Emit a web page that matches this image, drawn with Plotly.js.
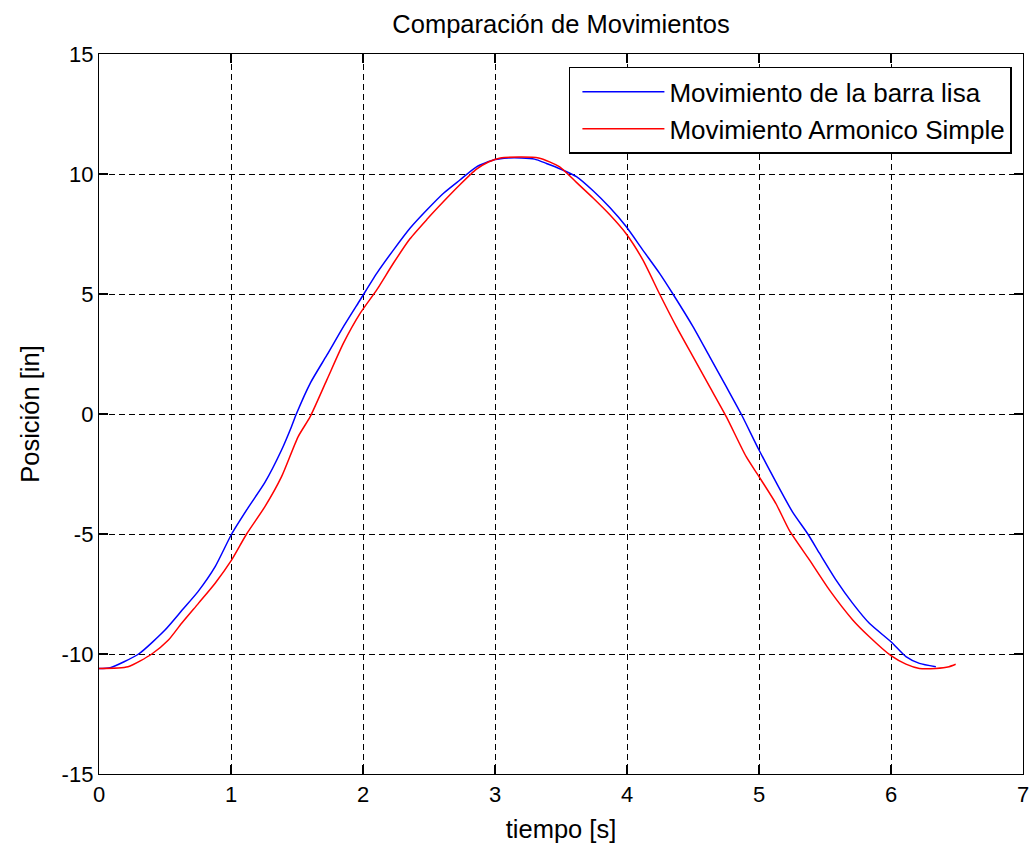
<!DOCTYPE html>
<html>
<head>
<meta charset="utf-8">
<script src="https://cdn.plot.ly/plotly-3.0.1.min.js"></script>
<style>
  html, body { margin: 0; padding: 0; background: #ffffff; }
  #chart { width: 1032px; height: 847px; }
</style>
</head>
<body>
<div id="chart"></div>
<script>
// Posición de la barra lisa frente al tiempo
const tBarra = [0, 0.085, 0.30, 0.50, 0.63, 0.75, 0.88, 1.005, 1.13, 1.257, 1.383, 1.458, 1.495,
  1.60, 1.726, 1.852, 1.978, 2.104, 2.23, 2.356, 2.483, 2.61, 2.734, 2.86, 3.0, 3.1, 3.2, 3.3,
  3.39, 3.5, 3.617, 3.743, 3.87, 3.995, 4.12, 4.247, 4.348, 4.5, 4.626, 4.752, 4.865, 5.0,
  5.13, 5.256, 5.37, 5.458, 5.584, 5.71, 5.836, 6.0, 6.113, 6.215, 6.34];
const posBarra = [-10.6, -10.57, -10.0, -9.0, -8.17, -7.4, -6.36, -5.0, -3.9, -2.85, -1.5, -0.53, 0.0,
  1.28, 2.45, 3.64, 4.75, 5.86, 6.83, 7.74, 8.5, 9.2, 9.75, 10.3, 10.6, 10.67, 10.67, 10.62,
  10.44, 10.2, 9.89, 9.3, 8.6, 7.8, 6.83, 5.86, 5.0, 3.64, 2.39, 1.14, 0.0, -1.5,
  -2.85, -4.1, -5.0, -5.8, -6.92, -7.89, -8.72, -9.49, -10.11, -10.39, -10.53];

// Posición del movimiento armónico simple
const tMas = [0, 0.22, 0.40, 0.526, 0.626, 0.753, 0.88, 1.005, 1.118, 1.257, 1.383, 1.509,
  1.60, 1.726, 1.852, 1.978, 2.104, 2.23, 2.356, 2.483, 2.61, 2.734, 2.86, 2.95, 3.04, 3.33,
  3.49, 3.617, 3.743, 3.87, 3.995, 4.12, 4.247, 4.374, 4.5, 4.626, 4.752, 4.903, 5.0, 5.13,
  5.23, 5.382, 5.533, 5.71, 5.836, 6.0, 6.113, 6.215, 6.34, 6.44, 6.49];
const posMas = [-10.6, -10.53, -10.0, -9.42, -8.72, -7.89, -7.05, -6.08, -5.0, -3.86, -2.61, -0.94,
  -0.11, 1.42, 2.95, 4.19, 5.17, 6.28, 7.3, 8.1, 8.85, 9.55, 10.2, 10.5, 10.67, 10.67,
  10.3, 9.65, 9.0, 8.3, 7.5, 6.42, 5.0, 3.64, 2.39, 1.14, -0.11, -1.78, -2.61, -3.75,
  -4.85, -6.08, -7.33, -8.58, -9.28, -10.07, -10.42, -10.6, -10.6, -10.53, -10.43];

const nombres = ['Movimiento de la barra lisa', 'Movimiento Armonico Simple'];
const xTicks = [0, 1, 2, 3, 4, 5, 6, 7];
const yTicks = [-15, -10, -5, 0, 5, 10, 15];

const FONT = 'Liberation Sans, Arial, sans-serif';

const traces = [
  { x: tBarra, y: posBarra, name: nombres[0], type: 'scatter', mode: 'lines',
    line: { color: '#0000ff', width: 1.5, shape: 'spline', smoothing: 0.6 } },
  { x: tMas, y: posMas, name: nombres[1], type: 'scatter', mode: 'lines',
    line: { color: '#ff0000', width: 1.5, shape: 'spline', smoothing: 0.6 } }
];

const axisCommon = {
  showline: true, linecolor: '#000000', linewidth: 1.2, mirror: 'ticks',
  ticks: 'inside', ticklen: 9, tickwidth: 1.2, tickcolor: '#000000',
  showgrid: true, gridcolor: '#000000', gridwidth: 1, griddash: '6px,4px',
  zeroline: false,
  tickfont: { family: FONT, size: 22, color: '#000000' }
};

const layout = {
  width: 1032, height: 847,
  paper_bgcolor: '#ffffff', plot_bgcolor: '#ffffff',
  margin: { l: 99, r: 9, t: 54, b: 73 },
  font: { family: FONT, color: '#000000' },
  title: { text: 'Comparación de Movimientos', font: { family: FONT, size: 25.5, color: '#000000' },
    xref: 'paper', x: 0.5, xanchor: 'center', y: 0.971, yanchor: 'middle' },
  xaxis: Object.assign({}, axisCommon, {
    range: [0, 7], tickvals: xTicks, ticktext: xTicks.map(String),
    title: { text: 'tiempo [s]', font: { family: FONT, size: 25.5, color: '#000000' }, standoff: 14 }
  }),
  yaxis: Object.assign({}, axisCommon, {
    range: [-15, 15], tickvals: yTicks, ticktext: yTicks.map(String),
    title: { text: 'Posición [in]', font: { family: FONT, size: 25.5, color: '#000000' }, standoff: 14 }
  }),
  showlegend: true,
  legend: {
    x: 0.988, y: 0.982, xanchor: 'right', yanchor: 'top',
    bgcolor: '#ffffff', bordercolor: '#000000', borderwidth: 1.5,
    font: { family: FONT, size: 26, color: '#000000' },
    itemwidth: 82, tracegroupgap: 0, indentation: 7
  }
};

Plotly.newPlot('chart', traces, layout, { displayModeBar: false, staticPlot: true });
</script>
</body>
</html>
